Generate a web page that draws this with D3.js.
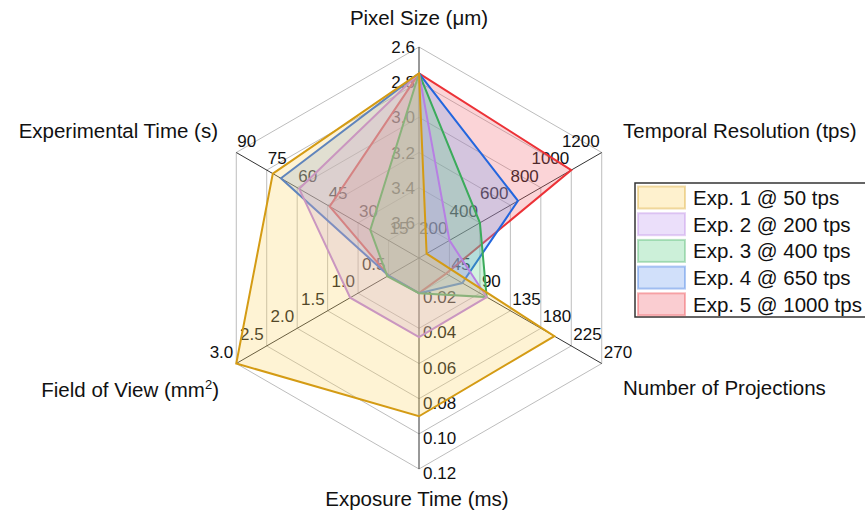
<!DOCTYPE html>
<html>
<head>
<meta charset="utf-8">
<script src="https://cdn.jsdelivr.net/npm/d3@7"></script>
<style>
  body { margin: 0; background: #fff; }
  svg { font-family: "Liberation Sans", Arial, sans-serif; }
</style>
</head>
<body>
<div id="chart"></div>
<script>
// axes, clockwise from the top
const axisNames = ["Pixel Size (μm)", "Temporal Resolution (tps)", "Number of Projections",
                   "Exposure Time (ms)", "Field of View (mm2)", "Experimental Time (s)"];
// domain [centre, outer ring] per axis
const axisDomains = [[3.8, 2.6], [0, 1200], [0, 270], [0, 0.12], [0, 3.0], [0, 90]];
const axisTicks = [
  ["3.6", "3.4", "3.2", "3.0", "2.8", "2.6"],
  ["200", "400", "600", "800", "1000", "1200"],
  ["45", "90", "135", "180", "225", "270"],
  ["0.02", "0.04", "0.06", "0.08", "0.10", "0.12"],
  ["0.5", "1.0", "1.5", "2.0", "2.5", "3.0"],
  ["15", "30", "45", "60", "75", "90"]
];

const expNames = ["Exp. 1 @ 50 tps", "Exp. 2 @ 200 tps", "Exp. 3 @ 400 tps", "Exp. 4 @ 650 tps", "Exp. 5 @ 1000 tps"];
const exp1 = [2.75, 50, 200, 0.09, 3.0, 72];
const exp2 = [2.75, 200, 100, 0.045, 1.13, 59];
const exp3 = [2.75, 400, 100, 0.02, 0.52, 24];
const exp4 = [2.75, 650, 64, 0.02, 0.5, 68];
const exp5 = [2.75, 1000, 40, 0.02, 0.5, 44];

const strokeColors = ["#d49b14", "#b77fe3", "#3bab5b", "#2366de", "#ec3237"];
const fillColors = ["#fbd566", "#c09af0", "#5fcf8a", "#6f9ff0", "#f06470"];

const width = 865, height = 517;
const cx = 419, cy = 258, R = 211, nLevels = 6;

const svg = d3.select("#chart").append("svg")
  .attr("width", width).attr("height", height);

// un scale par axe
const scales = axisDomains.map(d => d3.scaleLinear().domain(d).range([0, R]));
const angle = i => (90 - 60 * i) * Math.PI / 180;
const pt = (i, r) => [cx + r * Math.cos(angle(i)), cy - r * Math.sin(angle(i))];
const closed = d3.line().curve(d3.curveLinearClosed);

// grid rings
const ringScale = d3.scaleLinear().domain([0, nLevels]).range([0, R]);
svg.append("g").selectAll("path")
  .data(d3.range(1, nLevels + 1))
  .join("path")
  .attr("d", k => closed(axisNames.map((_, i) => pt(i, ringScale(k)))))
  .attr("fill", "none")
  .attr("stroke", "#bdbdbd")
  .attr("stroke-width", 1);

// spokes
svg.append("g").selectAll("line")
  .data(axisNames)
  .join("line")
  .attr("x1", cx).attr("y1", cy)
  .attr("x2", (d, i) => pt(i, R)[0])
  .attr("y2", (d, i) => pt(i, R)[1])
  .attr("stroke", "#333")
  .attr("stroke-width", 1);

// tick labels (dessinés avant les polygones pour être teintés)
const labelPos = [
  { anchor: "end", dx: -4, dy: 6 },
  { anchor: "end", dx: -2, dy: -6 },
  { anchor: "start", dx: 2, dy: -6 },
  { anchor: "start", dx: 4, dy: 10 },
  { anchor: "end", dx: -3, dy: -6 },
  { anchor: "start", dx: 1, dy: -6 }
];
axisTicks.forEach((ticks, i) => {
  const lp = labelPos[i];
  svg.append("g").selectAll("text")
    .data(ticks)
    .join("text")
    .attr("x", (d, k) => pt(i, ringScale(k + 1))[0] + lp.dx)
    .attr("y", (d, k) => pt(i, ringScale(k + 1))[1] + lp.dy)
    .attr("text-anchor", lp.anchor)
    .attr("font-size", 17)
    .attr("fill", "#111")
    .text(d => d);
});

// polygons, exp 5 first so exp 1 ends on top
const series = [exp1, exp2, exp3, exp4, exp5];
const polys = series.map((vals, s) => ({ s, pts: vals.map((v, i) => pt(i, scales[i](v))) })).reverse();
svg.append("g").selectAll("path")
  .data(polys)
  .join("path")
  .attr("d", d => closed(d.pts))
  .attr("fill", d => fillColors[d.s])
  .attr("fill-opacity", 0.28)
  .attr("stroke", d => strokeColors[d.s])
  .attr("stroke-width", 2)
  .attr("stroke-linejoin", "miter");

// axis titles
const titlePos = [
  { x: 419, y: 25, anchor: "middle" },
  { x: 623, y: 138, anchor: "start" },
  { x: 623, y: 395, anchor: "start" },
  { x: 417, y: 506, anchor: "middle" },
  { x: 219, y: 397, anchor: "end" },
  { x: 218, y: 138, anchor: "end" }
];
axisNames.forEach((name, i) => {
  const t = svg.append("text")
    .attr("x", titlePos[i].x).attr("y", titlePos[i].y)
    .attr("text-anchor", titlePos[i].anchor)
    .attr("font-size", 20.5)
    .attr("fill", "#111");
  if (name.endsWith("mm2)")) {
    t.append("tspan").text(name.replace("mm2)", "mm"));
    t.append("tspan").attr("font-size", 13).attr("dy", -8).text("2");
    t.append("tspan").attr("dy", 8).text(")");
  } else {
    t.text(name);
  }
});

// legend
const legend = svg.append("g");
legend.append("rect")
  .attr("x", 635).attr("y", 183)
  .attr("width", 260).attr("height", 134)
  .attr("fill", "#fff")
  .attr("stroke", "#333")
  .attr("stroke-width", 1.5);
const rowH = 26.7;
const items = legend.selectAll("g.item")
  .data(expNames)
  .join("g")
  .attr("class", "item")
  .attr("transform", (d, i) => `translate(637,${186 + i * rowH})`);
items.append("rect")
  .attr("x", 1).attr("y", 0.5)
  .attr("width", 47).attr("height", 22)
  .attr("fill", (d, i) => fillColors[i])
  .attr("fill-opacity", 0.32)
  .attr("stroke", (d, i) => strokeColors[i])
  .attr("stroke-opacity", 0.35)
  .attr("stroke-width", 2);
items.append("text")
  .attr("x", 56).attr("y", 19)
  .attr("font-size", 20.5)
  .attr("fill", "#111")
  .text(d => d);
</script>
</body>
</html>
